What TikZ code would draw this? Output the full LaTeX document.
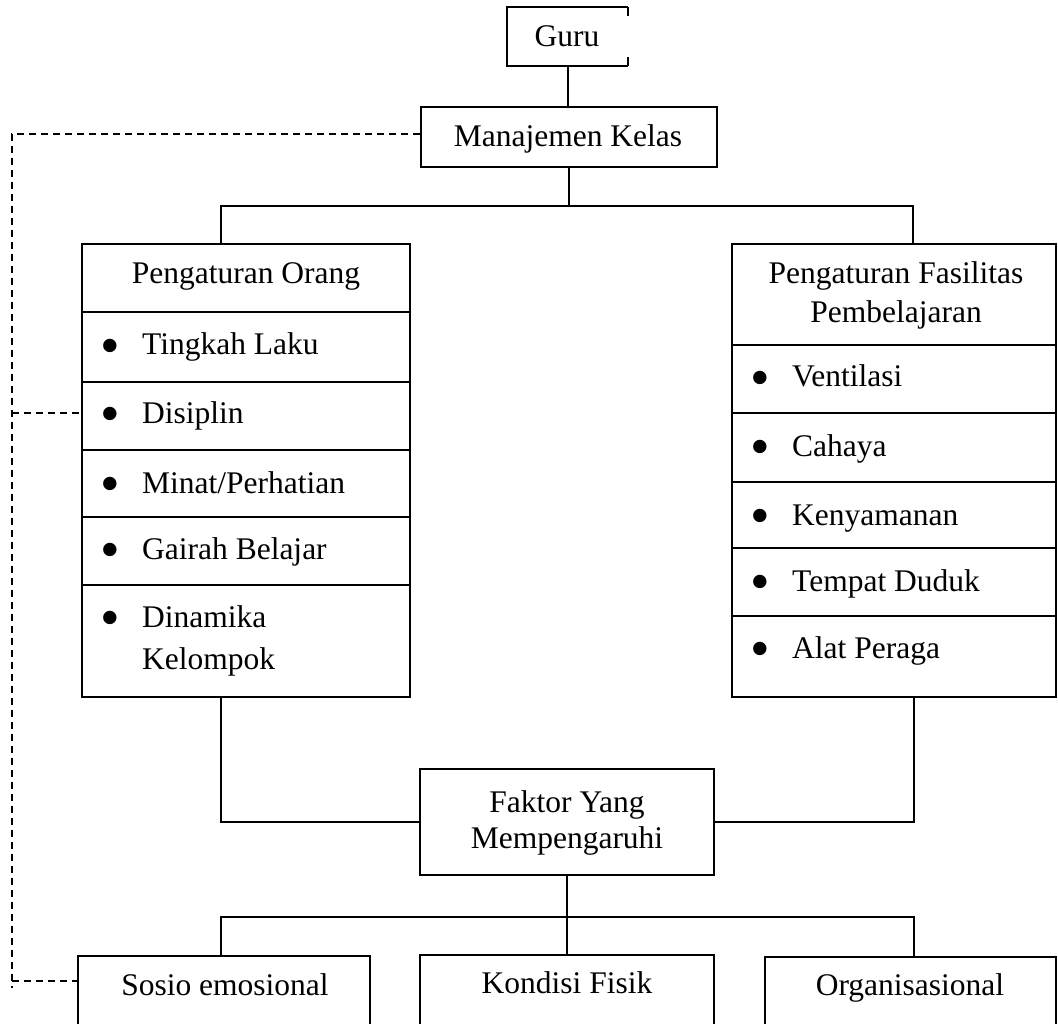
\documentclass[tikz,border=0pt]{standalone}
\usepackage{fontspec}
\setmainfont{Liberation Serif}
\newcommand\bul{\llap{\raisebox{-9.5pt}{\fontsize{56}{56}\selectfont\textbullet}\hspace{22.2pt}}}
\begin{document}
\begin{tikzpicture}[x=1pt,y=-1pt,
  cell/.style={draw, line width=2pt, inner sep=0pt, rectangle},
  txt/.style={inner sep=0pt, font=\fontsize{31.5}{38}\selectfont},
  conn/.style={line width=2pt},
  dashconn/.style={line width=1.6pt, dash pattern=on 7pt off 5pt}]
\useasboundingbox (0,0) rectangle (1058,1024);
\clip (0,0) rectangle (1058,1024);
% top boxes
\node[inner sep=0pt, minimum width=121pt, minimum height=59pt] (guru) at (567.5,36.5) {};
\draw[conn] (guru.north east) -- ++(0,9);
\draw[conn] (guru.south east) -- ++(0,-9);
\draw[conn] (guru.north east) -- (guru.north west) -- (guru.south west) -- (guru.south east);
\node[txt, anchor=base] (tguru) at (567,47) {Guru};
\node[cell, minimum width=296pt, minimum height=60pt] (mk) at (569,137) {};
\node[txt, anchor=base] (tmk) at (568,147) {Manajemen Kelas};
% left column
\node[cell, minimum width=328pt, minimum height=68pt] (lhead) at (246,278) {};
\node[cell, minimum width=328pt, minimum height=70pt] (l1) at (246,347) {};
\node[cell, minimum width=328pt, minimum height=68pt] (l2) at (246,416) {};
\node[cell, minimum width=328pt, minimum height=67pt] (l3) at (246,483.5) {};
\node[cell, minimum width=328pt, minimum height=68pt] (l4) at (246,551) {};
\node[cell, minimum width=328pt, minimum height=112pt] (l5) at (246,641) {};
\node[txt, anchor=base] (tlh) at (246,284) {Pengaturan Orang};
\node[txt, anchor=base west] (tl1) at (142,355) {\bul Tingkah Laku};
\node[txt, anchor=base west] (tl2) at (142,423) {\bul Disiplin};
\node[txt, anchor=base west] (tl3) at (142,493) {\bul Minat/Perhatian};
\node[txt, anchor=base west] (tl4) at (142,559) {\bul Gairah Belajar};
\node[txt, anchor=base west] (tl5) at (142,627) {\bul Dinamika};
\node[txt, anchor=base west] (tl5b) at (142,669) {Kelompok};
% right column
\node[cell, minimum width=324pt, minimum height=101pt] (rhead) at (894,294.5) {};
\node[cell, minimum width=324pt, minimum height=68pt] (r1) at (894,379) {};
\node[cell, minimum width=324pt, minimum height=69pt] (r2) at (894,447.5) {};
\node[cell, minimum width=324pt, minimum height=66pt] (r3) at (894,515) {};
\node[cell, minimum width=324pt, minimum height=68pt] (r4) at (894,582) {};
\node[cell, minimum width=324pt, minimum height=81pt] (r5) at (894,656.5) {};
\node[txt, anchor=base] (trh) at (896,284) {Pengaturan Fasilitas};
\node[txt, anchor=base] (trhb) at (896,323) {Pembelajaran};
\node[txt, anchor=base west] (tr1) at (792,387) {\bul Ventilasi};
\node[txt, anchor=base west] (tr2) at (792,456) {\bul Cahaya};
\node[txt, anchor=base west] (tr3) at (792,525) {\bul Kenyamanan};
\node[txt, anchor=base west] (tr4) at (792,591) {\bul Tempat Duduk};
\node[txt, anchor=base west] (tr5) at (792,658) {\bul Alat Peraga};
% faktor
\node[cell, minimum width=294pt, minimum height=106pt] (fk) at (567,822) {};
\node[txt, anchor=base] (tfk) at (567,812) {Faktor Yang};
\node[txt, anchor=base] (tfkb) at (567,848) {Mempengaruhi};
% bottom boxes
\node[cell, minimum width=292pt, minimum height=90pt] (so) at (224,1001) {};
\node[cell, minimum width=294pt, minimum height=90pt] (kf) at (567,1000) {};
\node[cell, minimum width=291pt, minimum height=90pt] (og) at (910.5,1002) {};
\node[txt, anchor=base] (tso) at (225,995) {Sosio emosional};
\node[txt, anchor=base] (tkf) at (567,993) {Kondisi Fisik};
\node[txt, anchor=base] (tog) at (910,995) {Organisasional};
% connectors
\coordinate (cl) at (221,206);
\coordinate (cr) at (913,206);
\coordinate (bl) at (221,822);
\coordinate (br) at (914,822);
\coordinate (bj) at (567,917);
\coordinate (bjl) at (221,917);
\coordinate (bjr) at (914,917);
\draw[conn] (guru.south) -- (guru.south |- mk.north);
\draw[conn] (mk.south) -- (mk.south |- cl);
\draw[conn] (cl |- lhead.north) -- (cl) -- (cr) -- (cr |- rhead.north);
\draw[conn] (bl |- l5.south) -- (bl) -- (fk.west);
\draw[conn] (fk.east) -- (br) -- (br |- r5.south);
\draw[conn] (fk.south) -- (bj);
\draw[conn] (bjl |- so.north) -- (bjl) -- (bjr) -- (bjr |- og.north);
\draw[conn] (bj) -- (bj |- kf.north);
% dashed feedback
\coordinate (dt) at (12,134);
\coordinate (db) at (12,988);
\draw[dashconn] (mk.west |- dt) -- (dt) -- (db);
\draw[dashconn] (12,413) -- (l2.west |- 0,413);
\draw[dashconn] (12,981) -- (so.west |- 0,981);
\end{tikzpicture}
\end{document}
